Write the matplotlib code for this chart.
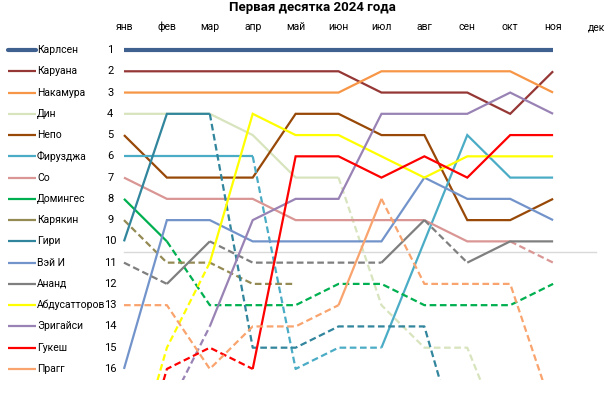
import numpy as np
import matplotlib
matplotlib.use('Agg')
import matplotlib.pyplot as plt
import matplotlib.transforms as mtransforms

plt.rcParams['font.family'] = ['Roboto', 'DejaVu Sans']

nan = np.nan
months = ['янв', 'фев', 'мар', 'апр', 'май', 'июн', 'июл', 'авг', 'сен', 'окт', 'ноя', 'дек']
title = 'Первая десятка 2024 года'

# rank per month (jan..nov), values below 16 are off the chart
players = ['Карлсен', 'Каруана', 'Накамура', 'Дин', 'Непо', 'Фирузджа', 'Со', 'Домингес',
           'Карякин', 'Гири', 'Вэй И', 'Ананд', 'Абдусатторов', 'Эригайси', 'Гукеш', 'Прагг']
carlsen = [1, 1, 1, 1, 1, 1, 1, 1, 1, 1, 1]
caruana = [2, 2, 2, 2, 2, 2, 3, 3, 3, 4, 2]
nakamura = [3, 3, 3, 3, 3, 3, 2, 2, 2, 2, 3]
ding = [4, 4, 4, 5, 7, 7, 13, 15, 15, 20, 21]
nepo = [5, 7, 7, 7, 4, 4, 5, 5, 9, 9, 8]
firouzja = [6, 6, 6, 6, 16, 15, 15, 10, 5, 7, 7]
so = [7, 8, 8, 8, 9, 9, 9, 9, 10, 10, 11]
dominguez = [8, 10, 13, 13, 13, 12, 12, 13, 13, 13, 12]
karjakin = [9, 11, 11, 12, 12, nan, nan, nan, nan, nan, nan]
giri = [10, 4, 4, 15, 15, 14, 14, 14, 21, 22, 22]
wei_yi = [16, 9, 9, 10, 10, 10, 10, 7, 8, 8, 9]
anand = [11, 12, 10, 11, 11, 11, 11, 9, 11, 10, 10]
abdusattorov = [22, 15, 11, 4, 5, 5, 6, 7, 6, 6, 6]
erigaisi = [20, 18, 14, 9, 8, 8, 4, 4, 4, 3, 4]
gukesh = [23, 16, 15, 16, 6, 6, 7, 6, 7, 5, 5]
pragg = [13, 13, 16, 14, 14, 13, 8, 12, 12, 12, 18]

series = [carlsen, caruana, nakamura, ding, nepo, firouzja, so, dominguez,
          karjakin, giri, wei_yi, anand, abdusattorov, erigaisi, gukesh, pragg]
colors = ['#3F6190', '#953735', '#F79646', '#D7E4BD', '#984807', '#4BACC6', '#D99694', '#00B050',
          '#948A54', '#31859C', '#7394CB', '#7F7F7F', '#FFFF00', '#9983B5', '#FF0000', '#F9A46E']
widths = [3.0] + [1.6] * 15

fig = plt.figure(figsize=(6.12, 3.99), dpi=100)
# jan at x=124px, dec at 596px, rank 1 at y=50px, bottom clip at y=380px
ax = fig.add_axes([111.1 / 612, 19 / 399, 497.8 / 612, 340.6 / 399])
ax.set_xlim(-0.3, 11.3)
ax.set_ylim(16.52, 0.5)
ax.axis('off')

ax.plot([0, 11], [10.5, 10.5], color='#D9D9D9', lw=1, zorder=1)

dash = (0, (3, 1.6))
for vals, c, w in zip(series, colors, widths):
    vals = np.array(vals, dtype=float)
    x = np.arange(len(vals))
    # segment style follows the end point: dashed when outside top 10
    i = 0
    while i < len(vals) - 1:
        if np.isnan(vals[i]) or np.isnan(vals[i + 1]):
            i += 1
            continue
        out = vals[i + 1] > 10
        j = i + 1
        while j < len(vals) - 1 and not np.isnan(vals[j + 1]) and (vals[j + 1] > 10) == out:
            j += 1
        ax.plot(x[i:j + 1], vals[i:j + 1], color=c, lw=w,
                linestyle=dash if out else '-', solid_joinstyle='miter',
                solid_capstyle='butt', dash_capstyle='butt', zorder=2)
        i = j

for k, m in enumerate(months):
    ax.text(k, 0.5 - (50 - 27) / 21.27 + 0.5, m, ha='center', va='center', fontsize=7.5, clip_on=False)

for r in range(1, 17):
    ax.text(-0.32, r, str(r), ha='center', va='center', fontsize=8, clip_on=False)

trans = mtransforms.blended_transform_factory(fig.transFigure, ax.transData)
for r, (name, c, w) in enumerate(zip(players, colors, widths), start=1):
    ax.plot([8 / 612, 36 / 612], [r, r], color=c, lw=w, transform=trans, clip_on=False,
            solid_capstyle='round' if r == 1 else 'butt')
    ax.text(37 / 612, r, name, transform=trans, ha='left', va='center', fontsize=7.5)

fig.text(312 / 612, 1 - 7 / 399, title, ha='center', va='center', fontsize=9.5, fontweight='bold')

fig.savefig('out.png', dpi=100)
